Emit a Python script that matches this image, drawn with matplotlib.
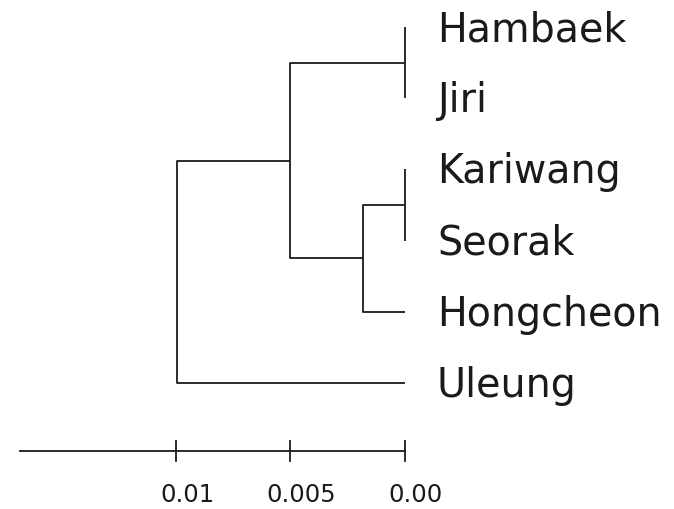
import matplotlib
matplotlib.use("Agg")
import matplotlib.pyplot as plt
from matplotlib.transforms import offset_copy

# Data
leaves = ["Hambaek", "Jiri", "Kariwang", "Seorak", "Hongcheon", "Uleung"]
# merges: (child_a, child_b, height); leaves are 0..5, new clusters 6..
merges = [(0, 1, 0.0), (2, 3, 0.0), (7, 4, 0.00183), (6, 8, 0.005), (9, 5, 0.00997)]
scale_ticks = [0.01, 0.005, 0.0]
scale_labels = ["0.01", "0.005", "0.00"]

W, H, DPI = 674, 509, 100
fig = plt.figure(figsize=(W / DPI, H / DPI), dpi=DPI)
ax = fig.add_axes([0, 0, 1, 1])
ax.set_axis_off()

# pixel mapping
px_per_x = 22900.0
px0 = 405.0
py0, py_step = 27.0, 71.2
ax.set_xlim(px0 / px_per_x, -(W - px0) / px_per_x)
ax.set_ylim((H - py0) / py_step, -py0 / py_step)

col = "#1a1a1a"
lw = 1.3

pos = {i: (0.0, float(i)) for i in range(len(leaves))}
nid = len(leaves)
for a, b, h in merges:
    xa, ya = pos[a]
    xb, yb = pos[b]
    ax.plot([xa, h, h, xb], [ya, ya, yb, yb], color=col, lw=lw, solid_capstyle="butt")
    pos[nid] = (h, (ya + yb) / 2)
    nid += 1

# leaf labels
tr = offset_copy(ax.transData, fig=fig, x=32, y=-14, units="dots")
for i, name in enumerate(leaves):
    ax.text(0.0, i, name, transform=tr, fontsize=28.5, ha="left", va="baseline",
            color=col, family="DejaVu Sans")

# scale bar
ybar = (451 - py0) / py_step
xstart = (px0 - 20) / px_per_x
ax.plot([xstart, 0.0], [ybar, ybar], color=col, lw=lw)
tlen = 10 / py_step
for t in scale_ticks:
    ax.plot([t, t], [ybar - tlen, ybar + tlen], color=col, lw=lw)
trl = offset_copy(ax.transData, fig=fig, x=11, y=0, units="dots")
ylab = (502 - py0) / py_step
for t, s in zip(scale_ticks, scale_labels):
    ax.text(t, ylab, s, transform=trl, fontsize=17.5, ha="center", va="baseline",
            color=col, family="DejaVu Sans")

fig.savefig("out.png", dpi=DPI)
